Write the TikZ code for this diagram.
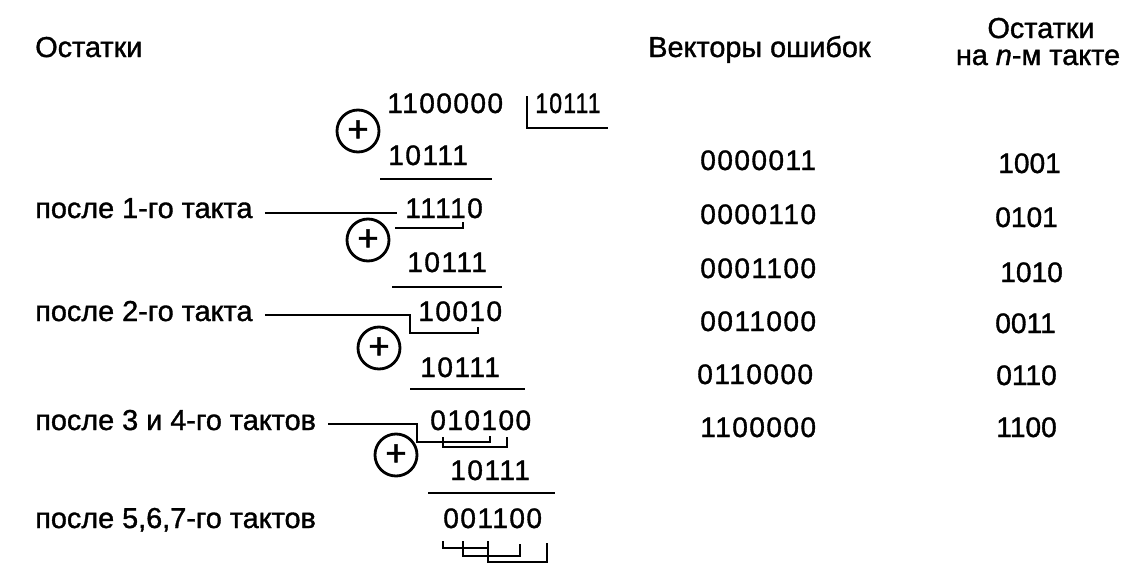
\documentclass[tikz,border=0pt]{standalone}
\usepackage{fontspec}
\setmainfont[FakeBold=1.2]{Liberation Sans}
\newfontfamily\bitfont[LetterSpace=5, FakeBold=1.2]{Liberation Sans}
\usetikzlibrary{positioning, calc}

\begin{document}
\begin{tikzpicture}[x=0.025cm, y=-0.025cm,
        caption/.style={anchor=base west, inner sep=0pt, font=\fontsize{20.5}{24}\selectfont},
        bits/.style={anchor=base west, inner sep=0pt, font=\bitfont\fontsize{20}{24}\selectfont},
        rest/.style={anchor=base west, inner sep=0pt, font=\fontsize{20}{24}\selectfont},
        xorsign/.style={circle, draw=black, line width=2pt, minimum size=1.05cm, inner sep=0pt, font=\fontsize{26}{26}\selectfont},
        rule/.style={-, line width=1.8pt, draw=black}
    ]
        \useasboundingbox[fill=white] (0,0) rectangle (1142,585);

        % --- HEADERS ---
        \node[caption] (hrem) at (35,57) {Остатки};
        \node[caption] (hvec) at (648,57) {Векторы ошибок};
        \node[caption, anchor=base] (hremn) at (1041,38) {Остатки};
        \node[caption, anchor=base] (htact) at (1038,65) {на \textit{n}-м такте};

        % --- DIVISION ---
        \node[bits] (d0) at (387,113) {1100000};
        \node[bits] (dvs) at (535,113) {\scalebox{0.82}[1]{10111}};
        \draw[rule] ($(dvs.base west)+(-8,-17)$) |- ($(dvs.base west)+(73,15)$);

        \node[xorsign] (x1) at (358,131) {+};
        \node[bits] (s1) at (388,165) {10111};
        \draw[rule] ($(s1.base west)+(-8,14)$) -- ++(112,0);
        \node[bits] (r1) at (405,218) {11110};

        \node[xorsign] (x2) at (368,240) {+};
        \node[bits] (s2) at (407,272) {10111};
        \draw[rule] ($(s2.base west)+(-15,15)$) -- ++(110,0);
        \node[bits] (r2) at (418,321) {10010};

        \node[xorsign] (x3) at (379,348) {+};
        \node[bits] (s3) at (420,377) {10111};
        \draw[rule] ($(s3.base west)+(-10,12)$) -- ++(115,0);
        \node[bits] (r3) at (430,430) {010100};

        \node[xorsign] (x4) at (396,455) {+};
        \node[bits] (s4) at (450,480) {10111};
        \draw[rule] ($(s4.base west)+(-22,13)$) -- ++(127,0);
        \node[bits] (r4) at (443,528) {001100};

        % --- STEP LABELS ---
        \node[caption] (l1) at (35,218) {после 1-го такта};
        \node[caption] (l2) at (35,321) {после 2-го такта};
        \node[caption] (l3) at (35,430) {после 3 и 4-го тактов};
        \node[caption] (l4) at (35,528) {после 5,6,7-го тактов};

        % --- LEADERS AND BRACKETS ---
        \draw[rule] ($(l1.base east)+(12,-5)$) -- ($(r1.base west)+(-8,-5)$);
        \draw[rule] ($(r1.base west)+(-10,10)$) -- ++(68,0) -- ++(0,-6);

        \draw[rule] ($(l2.base east)+(12,-6)$) -| ($(r2.base west)+(-8,12)$) -- ++(68,0) -- ++(0,-6);

        \draw[rule] ($(l3.base east)+(12,-6)$) -| ($(r3.base west)+(-13,12)$) -- ++(73,0) -- ++(0,-6);
        \draw[rule] ($(r3.base west)+(13,7)$) -- ++(0,10) -- ++(64,0) -- ++(0,-10);

        \draw[rule] ($(r4.base west)+(0,13)$) -- ++(0,7) -- ++(45,0) -- ++(0,-7);
        \draw[rule] ($(r4.base west)+(20,13)$) -- ++(0,15) -- ++(57,0) -- ++(0,-12);
        \draw[rule] ($(r4.base west)+(45,20)$) -- ++(0,14) -- ++(59,0) -- ++(0,-19);

        % --- ERROR VECTORS ---
        \node[bits] (v1) at (700,170) {0000011};
        \node[bits] (v2) at (700,224) {0000110};
        \node[bits] (v3) at (700,278) {0001100};
        \node[bits] (v4) at (700,331) {0011000};
        \node[bits] (v5) at (697,384) {0110000};
        \node[bits] (v6) at (700,437) {1100000};

        % --- REMAINDERS ---
        \node[rest] (m1) at (998,173) {1001};
        \node[rest] (m2) at (995,227) {0101};
        \node[rest] (m3) at (1000,282) {1010};
        \node[rest] (m4) at (995,333) {0011};
        \node[rest] (m5) at (996,385) {0110};
        \node[rest] (m6) at (996,437) {1100};
    \end{tikzpicture}
\end{document}
